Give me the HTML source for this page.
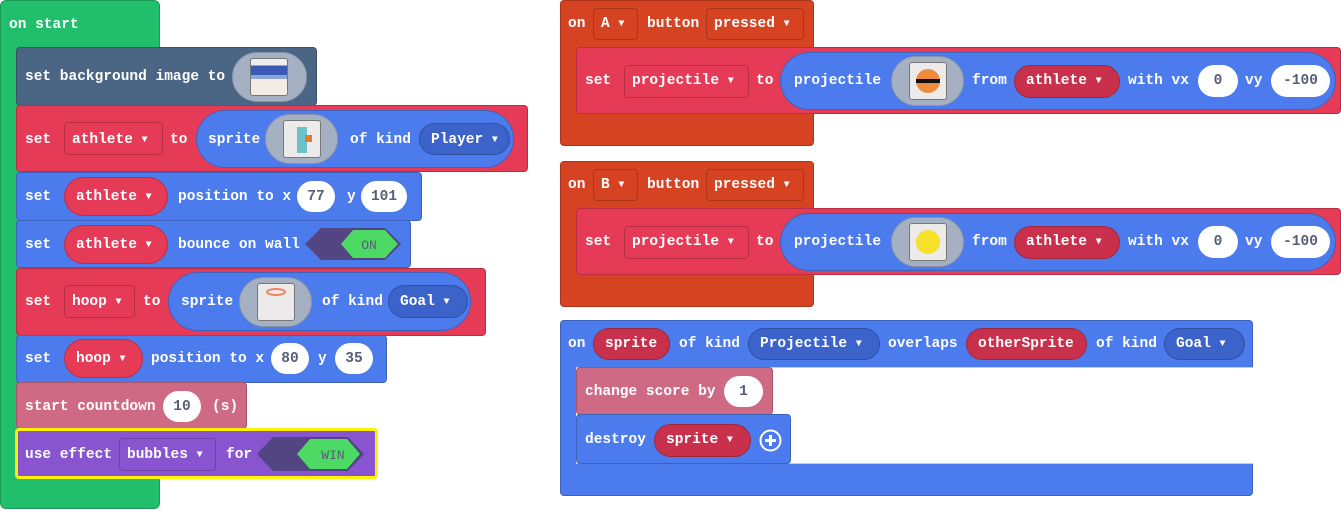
<!DOCTYPE html>
<html><head><meta charset="utf-8"><style>
body{margin:0;width:1341px;height:510px;background:#fff;position:relative;overflow:hidden;font-family:"Liberation Mono",monospace}
.r{position:absolute;box-sizing:border-box;border:1px solid rgba(0,0,0,.2);border-radius:4px}
.p{position:absolute;box-sizing:border-box;border:1px solid rgba(0,0,0,.2);border-radius:30px}
.t{position:absolute;color:#fff;font:bold 14.5px "Liberation Mono",monospace;line-height:18px;white-space:pre}
.n{position:absolute;box-sizing:border-box;background:#fff;border-radius:20px;color:#575e75;font:bold 14.5px "Liberation Mono",monospace;display:flex;align-items:center;justify-content:center}
.a{font-size:10px;vertical-align:1px}
.img{position:absolute;background:#a5b1c2;border:1px solid #8a96a8;border-radius:30px;box-sizing:border-box}
.img i{position:absolute;background:#ecebe9;border:1px solid #777;border-radius:3px;box-sizing:border-box}
</style></head><body>

<!-- on start -->
<div class="r" style="left:0;top:0;width:160px;height:509px;background:#21bf6b;border-radius:6px"></div>
<div class="t" style="left:9px;top:16px">on start</div>

<div class="r" style="left:16px;top:47px;width:301px;height:59px;background:#4b6584"></div>
<div class="t" style="left:25px;top:68px">set background image to</div>
<div class="img" style="left:232px;top:52px;width:75px;height:50px"><i style="left:17px;top:5px;width:38px;height:38px;background:linear-gradient(#eee 0 18%,#3a5bb5 18% 45%,#8aa6d8 45% 55%,#f3ece4 55%)"></i></div>

<div class="r" style="left:16px;top:105px;width:512px;height:67px;background:#e63b57"></div>
<div class="t" style="left:25px;top:131px">set</div>
<div class="r" style="left:64px;top:122px;width:99px;height:33px;background:#e63b57"></div>
<div class="t" style="left:72px;top:131px">athlete <span class="a">▼</span></div>
<div class="t" style="left:170px;top:131px">to</div>
<div class="p" style="left:196px;top:110px;width:318px;height:58px;background:#4b7bec"></div>
<div class="t" style="left:208px;top:131px">sprite</div>
<div class="img" style="left:265px;top:114px;width:73px;height:50px"><i style="left:17px;top:5px;width:38px;height:38px"></i><b style="position:absolute;left:31px;top:12px;width:10px;height:26px;background:#6dc1c9"></b><b style="position:absolute;left:39px;top:20px;width:7px;height:7px;background:#e07a2c"></b></div>
<div class="t" style="left:350px;top:131px">of kind</div>
<div class="p" style="left:419px;top:123px;width:91px;height:32px;background:#3c63c9"></div>
<div class="t" style="left:431px;top:131px">Player <span class="a">▼</span></div>

<div class="r" style="left:16px;top:172px;width:406px;height:49px;background:#4b7bec"></div>
<div class="t" style="left:25px;top:188px">set</div>
<div class="p" style="left:64px;top:177px;width:104px;height:39px;background:#e63b57"></div>
<div class="t" style="left:76px;top:188px">athlete <span class="a">▼</span></div>
<div class="t" style="left:178px;top:188px">position to x</div>
<div class="n" style="left:297px;top:181px;width:38px;height:31px">77</div>
<div class="t" style="left:347px;top:188px">y</div>
<div class="n" style="left:361px;top:181px;width:46px;height:31px">101</div>

<div class="r" style="left:16px;top:220px;width:395px;height:48px;background:#4b7bec"></div>
<div class="t" style="left:25px;top:236px">set</div>
<div class="p" style="left:64px;top:225px;width:104px;height:39px;background:#e63b57"></div>
<div class="t" style="left:76px;top:236px">athlete <span class="a">▼</span></div>
<div class="t" style="left:178px;top:236px">bounce on wall</div>
<svg style="position:absolute;left:305px;top:228px" width="96" height="32"><polygon points="16,0 80,0 96,16 80,32 16,32 0,16" fill="#534581"/><polygon points="48,2 80,2 93,16 80,30 48,30 36,16" fill="#4cd964"/><text x="64" y="21" fill="#575e75" font-family="Liberation Mono" font-size="13" text-anchor="middle">ON</text></svg>

<div class="r" style="left:16px;top:268px;width:470px;height:68px;background:#e63b57"></div>
<div class="t" style="left:25px;top:293px">set</div>
<div class="r" style="left:64px;top:285px;width:71px;height:33px;background:#e63b57"></div>
<div class="t" style="left:72px;top:293px">hoop <span class="a">▼</span></div>
<div class="t" style="left:143px;top:293px">to</div>
<div class="p" style="left:168px;top:272px;width:303px;height:59px;background:#4b7bec"></div>
<div class="t" style="left:181px;top:293px">sprite</div>
<div class="img" style="left:239px;top:277px;width:73px;height:50px"><i style="left:17px;top:5px;width:38px;height:38px"></i><b style="position:absolute;left:26px;top:10px;width:20px;height:8px;border:2px solid #f08060;border-radius:50%;box-sizing:border-box"></b></div>
<div class="t" style="left:322px;top:293px">of kind</div>
<div class="p" style="left:388px;top:285px;width:80px;height:33px;background:#3c63c9"></div>
<div class="t" style="left:400px;top:293px">Goal <span class="a">▼</span></div>

<div class="r" style="left:16px;top:335px;width:371px;height:48px;background:#4b7bec"></div>
<div class="t" style="left:25px;top:350px">set</div>
<div class="p" style="left:64px;top:339px;width:79px;height:39px;background:#e63b57"></div>
<div class="t" style="left:76px;top:350px">hoop <span class="a">▼</span></div>
<div class="t" style="left:151px;top:350px">position to x</div>
<div class="n" style="left:271px;top:343px;width:38px;height:31px">80</div>
<div class="t" style="left:318px;top:350px">y</div>
<div class="n" style="left:335px;top:343px;width:38px;height:31px">35</div>

<div class="r" style="left:16px;top:382px;width:231px;height:47px;background:#cf6a85"></div>
<div class="t" style="left:25px;top:398px">start countdown</div>
<div class="n" style="left:163px;top:391px;width:38px;height:31px">10</div>
<div class="t" style="left:212px;top:398px">(s)</div>

<div class="r" style="left:15px;top:428px;width:363px;height:51px;background:#8854d0;border:3px solid #fff200"></div>
<div class="t" style="left:25px;top:446px">use effect</div>
<div class="r" style="left:119px;top:438px;width:97px;height:33px;background:#8854d0"></div>
<div class="t" style="left:127px;top:446px">bubbles <span class="a">▼</span></div>
<div class="t" style="left:226px;top:446px">for</div>
<svg style="position:absolute;left:257px;top:437px" width="107" height="34"><polygon points="16,0 91,0 107,17 91,34 16,34 0,17" fill="#534581"/><polygon points="53,2 90,2 103,17 90,32 53,32 40,17" fill="#4cd964"/><text x="76" y="22" fill="#575e75" font-family="Liberation Mono" font-size="13" text-anchor="middle">WIN</text></svg>

<!-- on A -->
<div class="r" style="left:560px;top:0;width:254px;height:146px;background:#d54322"></div>
<div class="t" style="left:568px;top:15px">on</div>
<div class="r" style="left:593px;top:8px;width:45px;height:32px;background:#d54322"></div>
<div class="t" style="left:601px;top:15px">A <span class="a">▼</span></div>
<div class="t" style="left:647px;top:15px">button</div>
<div class="r" style="left:706px;top:8px;width:98px;height:32px;background:#d54322"></div>
<div class="t" style="left:714px;top:15px">pressed <span class="a">▼</span></div>
<div class="r" style="left:576px;top:47px;width:765px;height:67px;background:#e63b57"></div>
<div class="t" style="left:585px;top:72px">set</div>
<div class="r" style="left:624px;top:65px;width:125px;height:33px;background:#e63b57"></div>
<div class="t" style="left:632px;top:72px">projectile <span class="a">▼</span></div>
<div class="t" style="left:756px;top:72px">to</div>
<div class="p" style="left:780px;top:52px;width:556px;height:58px;background:#4b7bec"></div>
<div class="t" style="left:794px;top:72px">projectile</div>
<div class="img" style="left:891px;top:56px;width:73px;height:50px"><i style="left:17px;top:5px;width:38px;height:38px"></i><b style="position:absolute;left:24px;top:12px;width:24px;height:24px;background:#f08a3c;border-radius:50%"></b><b style="position:absolute;left:24px;top:22px;width:24px;height:4px;background:#111"></b></div>
<div class="t" style="left:972px;top:72px">from</div>
<div class="p" style="left:1014px;top:65px;width:106px;height:33px;background:#c8304b"></div>
<div class="t" style="left:1026px;top:72px">athlete <span class="a">▼</span></div>
<div class="t" style="left:1128px;top:72px">with vx</div>
<div class="n" style="left:1198px;top:65px;width:40px;height:32px">0</div>
<div class="t" style="left:1245px;top:72px">vy</div>
<div class="n" style="left:1271px;top:65px;width:59px;height:32px">-100</div>

<!-- on B -->
<div class="r" style="left:560px;top:161px;width:254px;height:146px;background:#d54322"></div>
<div class="t" style="left:568px;top:176px">on</div>
<div class="r" style="left:593px;top:169px;width:45px;height:32px;background:#d54322"></div>
<div class="t" style="left:601px;top:176px">B <span class="a">▼</span></div>
<div class="t" style="left:647px;top:176px">button</div>
<div class="r" style="left:706px;top:169px;width:98px;height:32px;background:#d54322"></div>
<div class="t" style="left:714px;top:176px">pressed <span class="a">▼</span></div>
<div class="r" style="left:576px;top:208px;width:765px;height:67px;background:#e63b57"></div>
<div class="t" style="left:585px;top:233px">set</div>
<div class="r" style="left:624px;top:226px;width:125px;height:33px;background:#e63b57"></div>
<div class="t" style="left:632px;top:233px">projectile <span class="a">▼</span></div>
<div class="t" style="left:756px;top:233px">to</div>
<div class="p" style="left:780px;top:213px;width:556px;height:58px;background:#4b7bec"></div>
<div class="t" style="left:794px;top:233px">projectile</div>
<div class="img" style="left:891px;top:217px;width:73px;height:50px"><i style="left:17px;top:5px;width:38px;height:38px"></i><b style="position:absolute;left:24px;top:12px;width:24px;height:24px;background:#f5e12a;border-radius:50%"></b></div>
<div class="t" style="left:972px;top:233px">from</div>
<div class="p" style="left:1014px;top:226px;width:106px;height:33px;background:#c8304b"></div>
<div class="t" style="left:1026px;top:233px">athlete <span class="a">▼</span></div>
<div class="t" style="left:1128px;top:233px">with vx</div>
<div class="n" style="left:1198px;top:226px;width:40px;height:32px">0</div>
<div class="t" style="left:1245px;top:233px">vy</div>
<div class="n" style="left:1271px;top:226px;width:59px;height:32px">-100</div>

<!-- overlaps -->
<div class="r" style="left:560px;top:320px;width:693px;height:176px;background:#4b7bec"></div>
<div class="r" style="left:576px;top:367px;width:677px;height:97px;background:#fff;border:none;border-top:1px solid rgba(0,0,0,.2);border-bottom:1px solid rgba(0,0,0,.2);border-radius:0"></div>
<div class="t" style="left:568px;top:335px">on</div>
<div class="p" style="left:593px;top:328px;width:77px;height:32px;background:#c8304b"></div>
<div class="t" style="left:605px;top:335px">sprite</div>
<div class="t" style="left:679px;top:335px">of kind</div>
<div class="p" style="left:748px;top:328px;width:132px;height:32px;background:#3c63c9"></div>
<div class="t" style="left:760px;top:335px">Projectile <span class="a">▼</span></div>
<div class="t" style="left:888px;top:335px">overlaps</div>
<div class="p" style="left:966px;top:328px;width:121px;height:32px;background:#c8304b"></div>
<div class="t" style="left:978px;top:335px">otherSprite</div>
<div class="t" style="left:1096px;top:335px">of kind</div>
<div class="p" style="left:1164px;top:328px;width:81px;height:32px;background:#3c63c9"></div>
<div class="t" style="left:1176px;top:335px">Goal <span class="a">▼</span></div>
<div class="r" style="left:576px;top:367px;width:197px;height:48px;background:#cf6a85"></div>
<div class="t" style="left:585px;top:383px">change score by</div>
<div class="n" style="left:724px;top:376px;width:39px;height:31px">1</div>
<div class="r" style="left:576px;top:414px;width:215px;height:50px;background:#4b7bec"></div>
<div class="t" style="left:585px;top:431px">destroy</div>
<div class="p" style="left:654px;top:424px;width:97px;height:33px;background:#c8304b"></div>
<div class="t" style="left:666px;top:431px">sprite <span class="a">▼</span></div>
<svg style="position:absolute;left:759px;top:429px" width="23" height="23"><circle cx="11.5" cy="11.5" r="10" fill="none" stroke="#fff" stroke-width="2"/><path d="M11.5 6v11M6 11.5h11" stroke="#fff" stroke-width="3"/></svg>
</body></html>
